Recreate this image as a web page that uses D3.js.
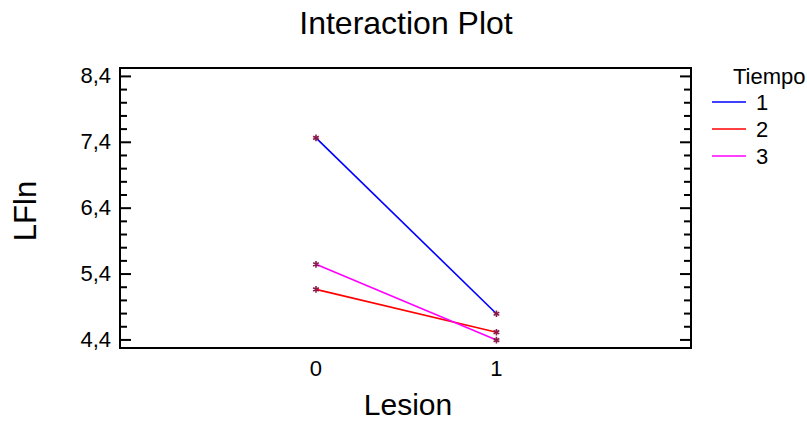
<!DOCTYPE html>
<html>
<head>
<meta charset="utf-8">
<script src="https://cdn.jsdelivr.net/npm/d3@7"></script>
<style>
  body { margin: 0; background: #fff; }
  svg { display: block; font-family: "Liberation Sans", Arial, sans-serif; }
</style>
</head>
<body>
<div id="chart"></div>
<script>
// Data
const lesion = [0, 1];
const tiempo = ['1', '2', '3'];
const tiempo1 = [7.46, 4.79];
const tiempo2 = [5.16, 4.51];
const tiempo3 = [5.54, 4.39];
const yTicks = [4.4, 5.4, 6.4, 7.4, 8.4];
const yTickLabels = ['4,4', '5,4', '6,4', '7,4', '8,4'];
const colors = ['#0000ff', '#ff0000', '#ff00ff'];

const series = [tiempo1, tiempo2, tiempo3];

// SVG Dimensions
const width = 807;
const height = 423;
const box = { left: 120, right: 691, top: 68, bottom: 348 };

const svg = d3.select('#chart')
  .append('svg')
  .attr('width', width)
  .attr('height', height);

// Scales
const xScale = d3.scaleLinear()
  .domain([-1.086, 2.078])
  .range([box.left, box.right]);

const yScale = d3.scaleLinear()
  .domain([4.27, 8.52])
  .range([box.bottom, box.top]);

const minorTicks = d3.range(4.4, 8.41, 0.2)
  .map(v => +v.toFixed(1))
  .filter(v => !yTicks.includes(v));

// Axes (ticks point inwards on both sides)
const leftMajor = d3.axisLeft(yScale)
  .tickValues(yTicks)
  .tickSize(-11)
  .tickPadding(9)
  .tickFormat((d, i) => yTickLabels[i]);

const leftMinor = d3.axisLeft(yScale)
  .tickValues(minorTicks)
  .tickSize(-7)
  .tickFormat('');

const rightMajor = d3.axisRight(yScale)
  .tickValues(yTicks)
  .tickSize(-11)
  .tickFormat('');

const rightMinor = d3.axisRight(yScale)
  .tickValues(minorTicks)
  .tickSize(-7)
  .tickFormat('');

function styleAxis(g) {
  g.select('.domain').remove();
  g.selectAll('line').attr('stroke', '#000').attr('stroke-width', 2);
  g.selectAll('text')
    .attr('font-size', '22px')
    .attr('fill', '#000')
    .attr('font-family', '"Liberation Sans", Arial, sans-serif');
}

svg.append('g').attr('transform', `translate(${box.left},0)`).call(leftMajor).call(styleAxis);
svg.append('g').attr('transform', `translate(${box.left},0)`).call(leftMinor).call(styleAxis);
svg.append('g').attr('transform', `translate(${box.right},0)`).call(rightMajor).call(styleAxis);
svg.append('g').attr('transform', `translate(${box.right},0)`).call(rightMinor).call(styleAxis);

// plot frame
svg.append('rect')
  .attr('x', box.left)
  .attr('y', box.top)
  .attr('width', box.right - box.left)
  .attr('height', box.bottom - box.top)
  .attr('fill', 'none')
  .attr('stroke', '#000')
  .attr('stroke-width', 2);

// x category labels
svg.append('g')
  .selectAll('text')
  .data(lesion)
  .join('text')
  .attr('x', d => xScale(d))
  .attr('y', 376)
  .attr('text-anchor', 'middle')
  .attr('font-size', '22px')
  .text(d => d);

// Lines
const lineGenerator = d3.line()
  .x((d, i) => xScale(lesion[i]))
  .y(d => yScale(d));

svg.append('g')
  .selectAll('path')
  .data(series)
  .join('path')
  .attr('d', lineGenerator)
  .attr('fill', 'none')
  .attr('stroke', (d, i) => colors[i])
  .attr('stroke-width', 1.6);

// Markers
const marker = d3.symbol().type(d3.symbolAsterisk).size(30);
series.forEach(s => {
  svg.append('g')
    .selectAll('path')
    .data(s)
    .join('path')
    .attr('d', marker)
    .attr('transform', (d, i) => `translate(${xScale(lesion[i])},${yScale(d)})`)
    .attr('fill', 'none')
    .attr('stroke', '#8b1a4a')
    .attr('stroke-width', 1.6);
});

// Titles
svg.append('text')
  .attr('x', 406)
  .attr('y', 34)
  .attr('text-anchor', 'middle')
  .attr('font-size', '32px')
  .text('Interaction Plot');

svg.append('text')
  .attr('x', 408)
  .attr('y', 415)
  .attr('text-anchor', 'middle')
  .attr('font-size', '30px')
  .text('Lesion');

svg.append('text')
  .attr('transform', 'translate(36,211) rotate(-90)')
  .attr('text-anchor', 'middle')
  .attr('font-size', '31px')
  .text('LFln');

// Legend
const legend = svg.append('g');
legend.append('text')
  .attr('x', 733)
  .attr('y', 84)
  .attr('font-size', '22px')
  .text('Tiempo');

const items = legend.selectAll('g.item')
  .data(tiempo)
  .join('g')
  .attr('class', 'item')
  .attr('transform', (d, i) => `translate(0,${102 + i * 27})`);

items.append('line')
  .attr('x1', 712)
  .attr('x2', 746)
  .attr('stroke', (d, i) => colors[i])
  .attr('stroke-width', 1.6);

items.append('text')
  .attr('x', 756)
  .attr('y', 8)
  .attr('font-size', '22px')
  .text(d => d);
</script>
</body>
</html>
